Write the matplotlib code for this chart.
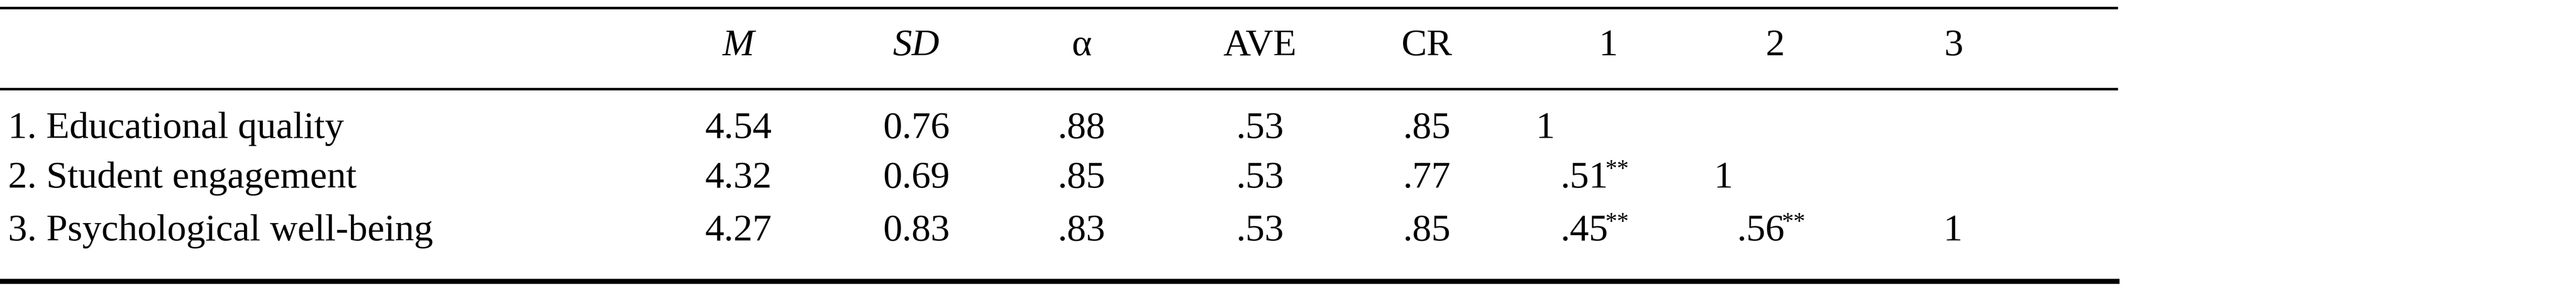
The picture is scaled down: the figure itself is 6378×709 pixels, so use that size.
import matplotlib
matplotlib.use("Agg")
import matplotlib.pyplot as plt
from matplotlib.lines import Line2D

plt.rcParams['font.family'] = ['Liberation Serif', 'DejaVu Serif']

headers = ["M", "SD", "α", "AVE", "CR", "1", "2", "3"]
header_italic = [True, True, False, False, False, False, False, False]
labels = ["1. Educational quality", "2. Student engagement", "3. Psychological well-being"]
M = ["4.54", "4.32", "4.27"]
SD = ["0.76", "0.69", "0.83"]
alpha = [".88", ".85", ".83"]
AVE = [".53", ".53", ".53"]
CR = [".85", ".77", ".85"]
corr = [["1", "", ""], [".51**", "1", ""], [".45**", ".56**", "1"]]

W, H = 1560.0, 173.0
fig = plt.figure(figsize=(63.78, 7.09), dpi=100)
fx = lambda x: x / W
fy = lambda y: 1 - y / H
fs = 68

col_x = [447, 555, 655, 763, 864, 974, 1075, 1183]
for h, it, x in zip(headers, header_italic, col_x):
    fig.text(fx(x), fy(28), h, ha='center', va='center', fontsize=fs,
             style='italic' if it else 'normal')

row_y = [78, 108, 140]
for i, y in enumerate(row_y):
    fig.text(fx(5), fy(y), labels[i], ha='left', va='center', fontsize=fs)
    for x, v in zip(col_x[:5], [M[i], SD[i], alpha[i], AVE[i], CR[i]]):
        fig.text(fx(x), fy(y), v, ha='center', va='center', fontsize=fs)
    corr_left = [945, 1052, 1177]
    one_left = [930, 1038, 1177]
    for j in range(3):
        v = corr[i][j]
        if not v:
            continue
        if v == "1":
            fig.text(fx(one_left[j]), fy(y), v, ha='left', va='center', fontsize=fs)
        else:
            num = v.rstrip('*')
            fig.text(fx(corr_left[j]), fy(y), num, ha='left', va='center', fontsize=fs)
            fig.text(fx(corr_left[j] + 27), fy(y - 5), "**", ha='left', va='center', fontsize=fs * 0.62)

for y, lw in [(5, 4.5), (54, 4.5), (170, 9)]:
    fig.add_artist(Line2D([0, fx(1282)], [fy(y), fy(y)], color='black', lw=lw,
                          transform=fig.transFigure))

fig.savefig("out.png", dpi=100, facecolor='white')
